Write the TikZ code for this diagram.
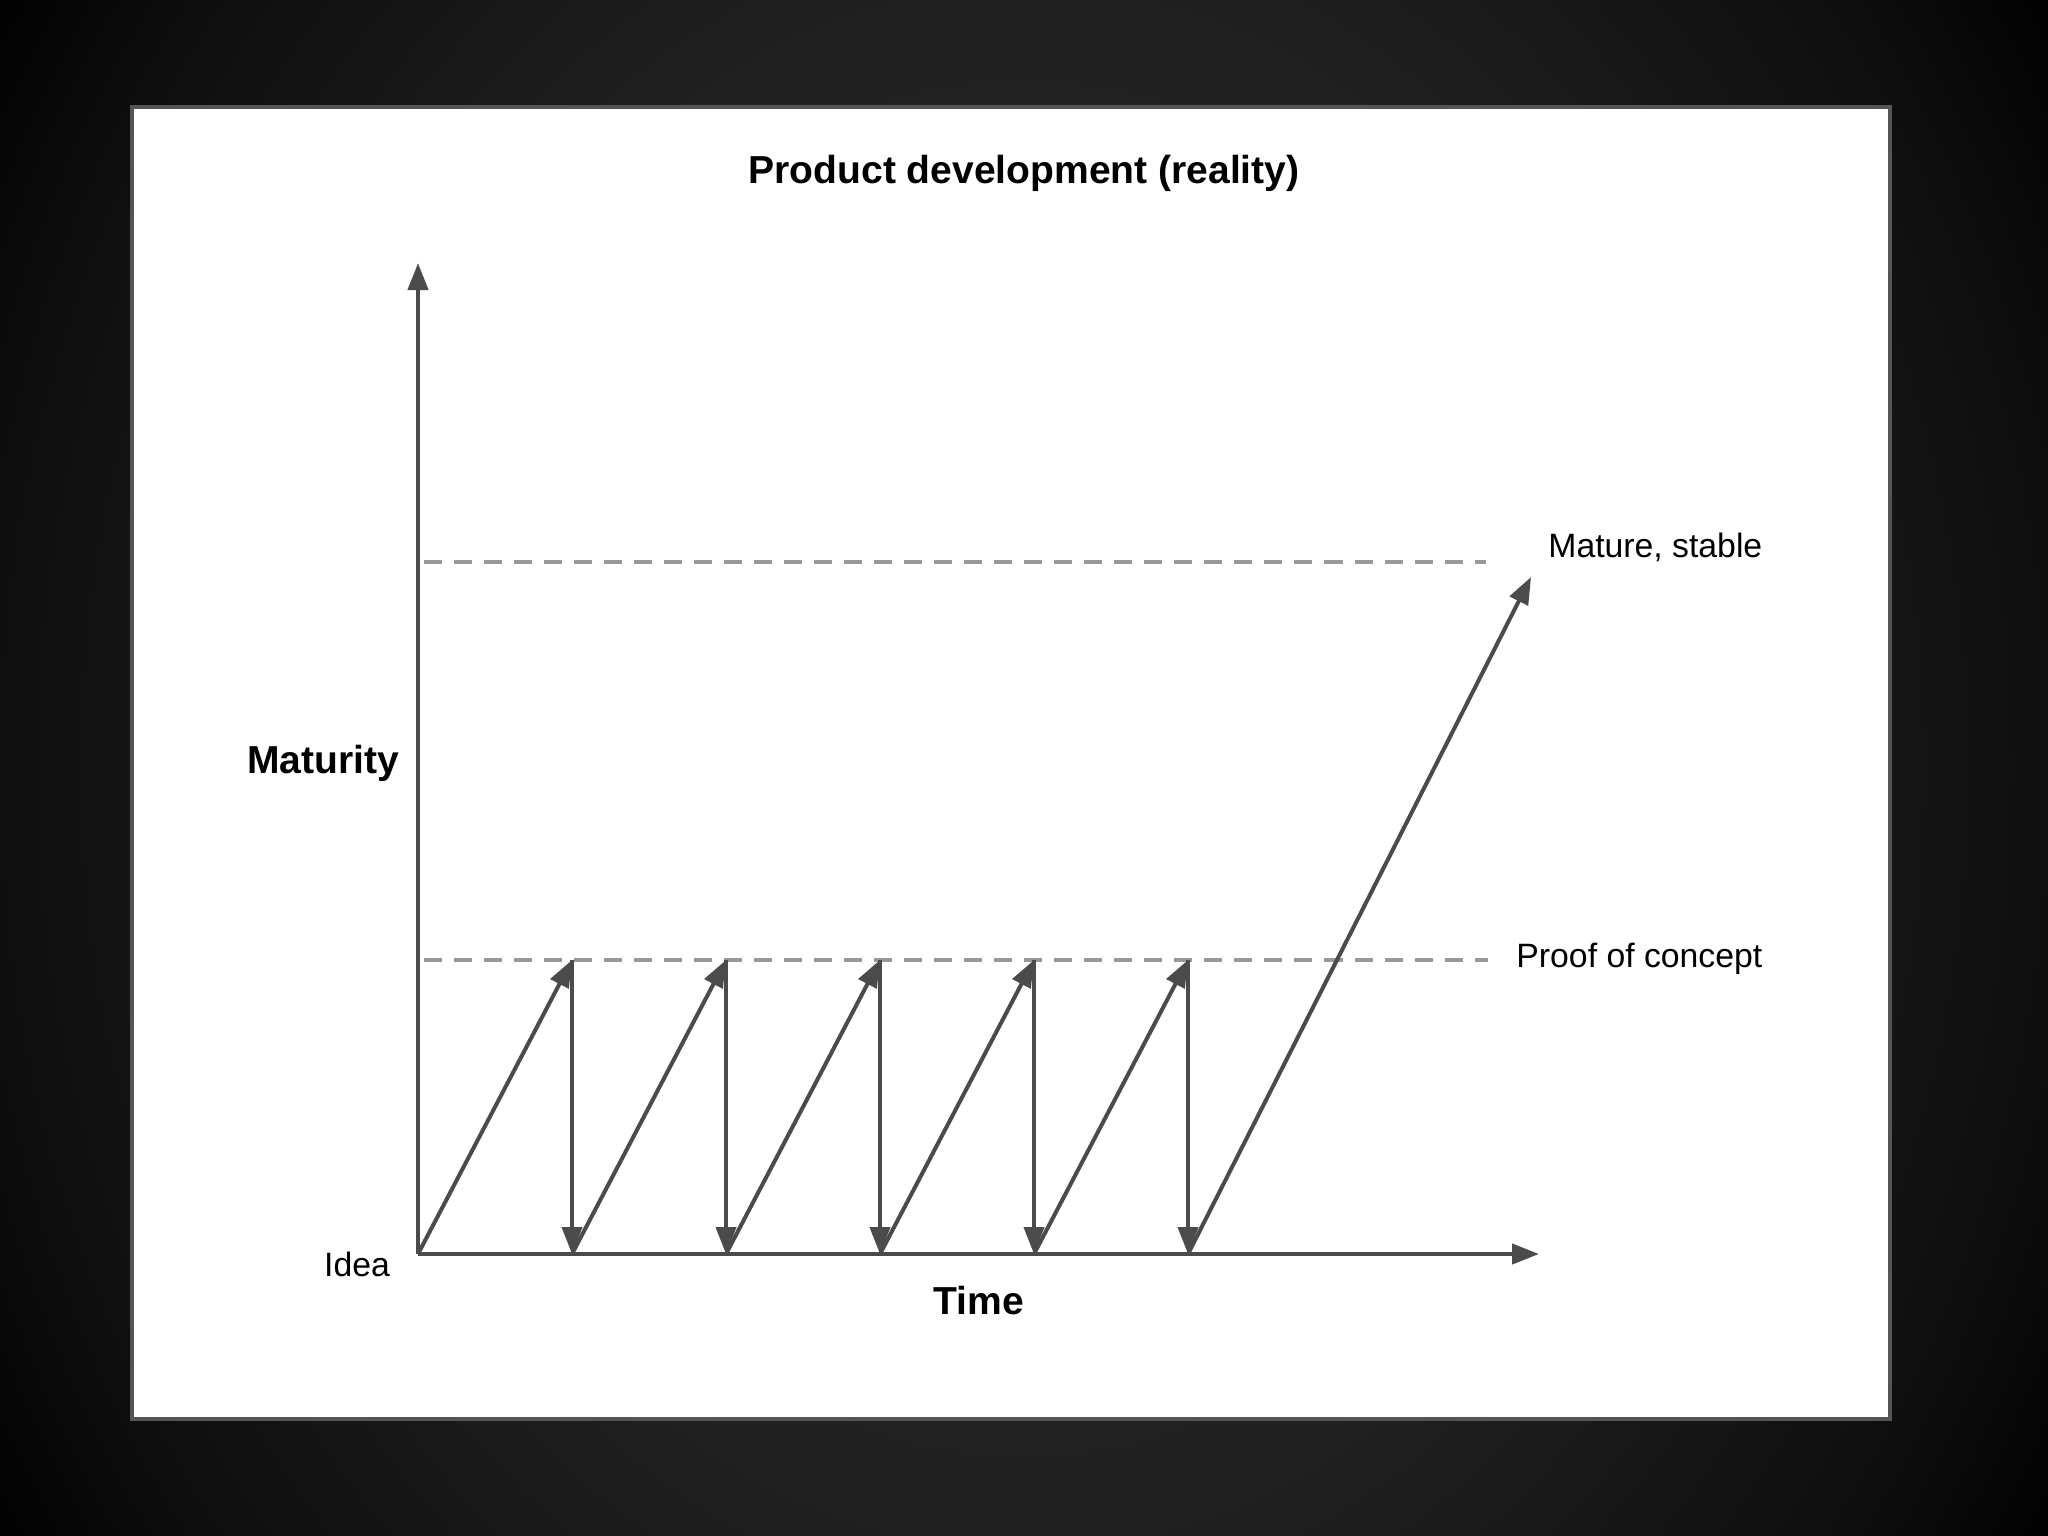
\documentclass[tikz,border=0pt]{standalone}
\usepackage{fontspec}
\setmainfont{Liberation Sans}
\usetikzlibrary{arrows.meta}

\definecolor{inkgray}{HTML}{4B4B4B}
\definecolor{guidegray}{HTML}{999999}
\definecolor{framegray}{HTML}{555555}
\pgfdeclareradialshading{bgglow}{\pgfpoint{0bp}{0bp}}{color(0bp)=(black!85); color(10bp)=(black!87); color(16.5bp)=(black!94); color(19.5bp)=(black!99); color(25bp)=(black); color(50bp)=(black)}

\begin{document}
\begin{tikzpicture}[x=0.01cm, y=-0.01cm,
	axis/.style={draw=inkgray, line width=0.042cm, -{Triangle[length=0.27cm,width=0.2cm]}},
	jump/.style={draw=inkgray, line width=0.04cm, -{Triangle[length=0.27cm,width=0.2cm]}},
	guide/.style={draw=guidegray, line width=0.036cm, dash pattern=on 0.18cm off 0.12cm},
	big/.style={font=\fontsize{11.1}{13}\selectfont\bfseries, inner sep=0pt},
	small/.style={font=\fontsize{9.6}{11}\selectfont, inner sep=0pt}]
	\useasboundingbox (0,0) rectangle (2048,1536);
	\begin{scope}
		\clip (0,0) rectangle (2048,1536);
		\shade[shading=bgglow] (-512,-1075) rectangle (2560,2611);
	\end{scope}
	\draw[framegray, line width=0.04cm, fill=white] (132,107) rectangle (1890,1419);

	% axes and levels
	\coordinate (o) at (418,1254);
	\coordinate (ytop) at (418,263);
	\coordinate (xend) at (1539,1254);
	\coordinate (stab0) at (424,562);
	\coordinate (stab1) at (1486,562);
	\coordinate (poc0) at (424,960);
	\coordinate (poc1) at (1488,960);
	\draw[guide] (stab0) -- (stab1);
	\draw[guide] (poc0) -- (poc1);
	\draw[axis] (o) -- (ytop);
	\draw[axis] (o) -- (xend);

	% up to the proof of concept and back, five times
	\coordinate (b0) at (o);
	\foreach \i in {1,...,5} {
		\coordinate (t\i) at (418+154*\i,960);
		\coordinate (b\i) at (418+154*\i,1254);
	}
	\foreach \i/\k in {1/0,2/1,3/2,4/3,5/4} {
		\draw[jump] (b\k) -- (t\i);
		\draw[jump] (t\i) -- (b\i);
	}
	\coordinate (top) at (1531,577);
	\draw[jump] (b5) -- (top);

	% texts
	\node[big, anchor=base] (title) at (1024,183) {Product development (reality)};
	\node[big, anchor=base] (maturity) at (323,773) {Maturity};
	\node[big, anchor=base] (time) at (979,1314) {Time};
	\node[small, anchor=base] (idea) at (357,1276) {Idea};
	\node[small, anchor=base east] (stable) at (1763,557) {Mature, stable};
	\node[small, anchor=base east] (poc) at (1763,967) {Proof of concept};
\end{tikzpicture}
\end{document}
